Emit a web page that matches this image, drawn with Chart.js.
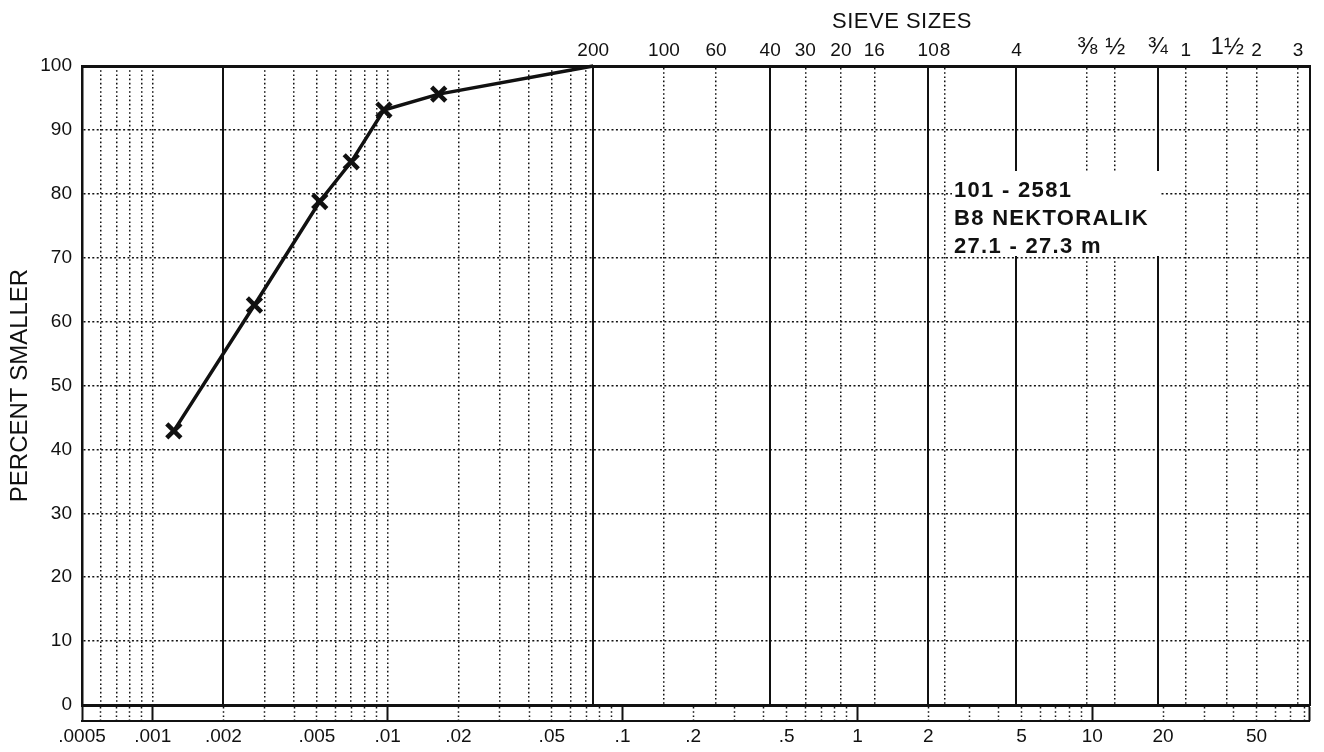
<!DOCTYPE html>
<html>
<head>
<meta charset="utf-8">
<title>Grain size distribution — 101-2581</title>
<script src="https://cdn.jsdelivr.net/npm/chart.js@4.4.1/dist/chart.umd.min.js"></script>
<style>
  html, body { margin: 0; padding: 0; background: #fff; }
  canvas { display: block; }
</style>
</head>
<body>
<canvas id="grain" width="1324" height="752"></canvas>
<script>
/* ============================================================
   grain size curve — hydrometer + sieve sheet
   ============================================================ */

/* ── sample ── */
const SIZE_MM     = [0.00123, 0.00271, 0.00514, 0.0070, 0.00964, 0.0165, 0.075];
const PCT_SMALLER = [42.9, 62.6, 78.8, 85.0, 93.1, 95.6, 100];

/* ── grain size axis (mm) ── */
const X_MIN = 0.0005;
const X_MAX = 84;
const BOTTOM_TICKS  = [0.0005, 0.001, 0.002, 0.005, 0.01, 0.02, 0.05, 0.1, 0.2, 0.5, 1, 2, 5, 10, 20, 50];
const BOTTOM_LABELS = ['.0005', '.001', '.002', '.005', '.01', '.02', '.05', '.1', '.2', '.5', '1', '2', '5', '10', '20', '50'];

/* sieve openings (mm) and their names */
const SIEVE_MM     = [0.075, 0.15, 0.25, 0.425, 0.6, 0.85, 1.18, 2.0, 2.36, 4.75, 9.5, 12.5, 19, 25, 37.5, 50, 75];
const SIEVE_LABELS = ['200', '100', '60', '40', '30', '20', '16', '10', '8', '4', '⅜', '½', '¾', '1', '1½', '2', '3'];
const HEAVY_MM     = [0.002, 0.075, 0.425, 2.0, 4.75, 19];

/* dotted lines in the hydrometer part */
const FINE_MM = [0.0006, 0.0007, 0.0008, 0.0009, 0.001,
                 0.003, 0.004, 0.005, 0.006, 0.007, 0.008, 0.009, 0.01,
                 0.02, 0.03, 0.04, 0.05, 0.06, 0.07];

/* percent axis */
const Y_TICKS = [0, 10, 20, 30, 40, 50, 60, 70, 80, 90, 100];

/* sample tag */
const TAG_LINES = ['101 - 2581', 'B8 NEKTORALIK', '27.1 - 27.3 m'];

/* ── look ── */
const FONT = "'Liberation Sans', Arial, Helvetica, sans-serif";
const INK  = '#111';
const DOTS = [1.6, 2.6];

Chart.defaults.font.family = FONT;
Chart.defaults.color       = INK;

/* short marks in the strip under the zero line: every 1..9 of each decade */
const STRIP_MM = [];
for (let e = -4; e <= 1; e++) {
  for (let m = 1; m <= 9; m++) {
    const v = +(m * Math.pow(10, e)).toPrecision(3);
    if (v >= X_MIN && v <= X_MAX) STRIP_MM.push(v);
  }
}
STRIP_MM.push(X_MAX);
const STRIP_SOLID = [X_MIN, 0.001, 0.01, 0.1, 1, 10, X_MAX];

/* ─────────────────────────── helpers ─────────────────────── */

const setTicks = list => scale => { scale.ticks = list.map(v => ({ value: v })); };
const fixH     = h => scale => { scale.height = h; };
const fixW     = w => scale => { scale.width  = w; };
const isFrac   = s => /[⅜½¾]/.test(s);

function logAxis(opts) {
  return Object.assign({ type: 'logarithmic', min: X_MIN, max: X_MAX }, opts);
}

/* sieve-sizes heading and the sample tag */
const sheetText = {
  id: 'sheetText',
  beforeDatasetsDraw(chart) {
    const { ctx } = chart;
    ctx.save();
    ctx.fillStyle    = INK;
    ctx.textBaseline = 'alphabetic';
    ctx.textAlign    = 'center';
    ctx.font         = `22px ${FONT}`;
    ctx.letterSpacing = '0.5px';
    ctx.fillText('SIEVE SIZES', 902, 28);

    ctx.fillStyle = '#fff';
    ctx.fillRect(952, 171, 208, 85);

    ctx.fillStyle = INK;
    ctx.textAlign = 'left';
    ctx.font      = `bold 22px ${FONT}`;
    ctx.letterSpacing = '1.3px';
    TAG_LINES.forEach((t, i) => ctx.fillText(t, 954, 197 + i * 28));
    ctx.restore();
  },
};

/* ─────────────────────────── chart ─────────────────────── */

new Chart(document.getElementById('grain'), {
  type: 'line',
  data: {
    datasets: [{
      data            : SIZE_MM.map((d, i) => ({ x: d, y: PCT_SMALLER[i] })),
      borderColor     : INK,
      borderWidth     : 3.5,
      pointStyle      : 'crossRot',
      pointRadius     : c => (c.dataIndex === SIZE_MM.length - 1 ? 0 : 10),
      pointBorderWidth: 4.5,
      pointBorderColor: INK,
      backgroundColor : INK,
      tension         : 0,
      clip            : false,
    }],
  },
  options: {
    responsive: false,
    animation : false,
    layout    : { padding: { left: 0, right: 10, top: 0, bottom: 0 } },
    plugins   : { legend: { display: false }, tooltip: { enabled: false } },
    scales: {
      /* labelled decade axis under the strip */
      x: logAxis({
        position: 'bottom', weight: 2,
        afterBuildTicks: setTicks(BOTTOM_TICKS),
        afterFit: fixH(31),
        ticks : { autoSkip: false, maxRotation: 0, minRotation: 0, padding: 4,
                  font: { size: 19 }, callback: (v, i) => BOTTOM_LABELS[i] },
        grid  : { drawOnChartArea: false, drawTicks: false },
        border: { display: true, color: INK, width: 2 },
      }),
      /* the strip right under the zero line */
      strip: logAxis({
        position: 'bottom', weight: 1,
        afterBuildTicks: setTicks(STRIP_MM),
        afterFit: fixH(16),
        ticks : { display: false },
        grid  : {
          drawOnChartArea: false, drawTicks: true, tickLength: 16, tickColor: INK,
          tickWidth     : c => (STRIP_SOLID.includes(c.tick.value) ? 2 : 1.5),
          tickBorderDash: c => (STRIP_SOLID.includes(c.tick.value) ? [] : DOTS),
        },
        border: { display: true, color: INK, width: 3 },
      }),
      /* sieve numbers on top */
      sieve: logAxis({
        position: 'top', weight: 1,
        afterBuildTicks: setTicks(SIEVE_MM),
        afterFit: fixH(66),
        ticks : { autoSkip: false, maxRotation: 0, minRotation: 0, padding: 4,
                  font: c => ({ size: isFrac(SIEVE_LABELS[c.index] || '') ? 24 : 19 }),
                  callback: (v, i) => SIEVE_LABELS[i] },
        grid  : { drawTicks: false, lineWidth: 1.5,
                  color: c => (HEAVY_MM.includes(c.tick.value) ? 'transparent' : INK) },
        border: { display: true, color: INK, width: 3, dash: DOTS },
      }),
      /* heavy lines: .002 mm and the main sieves */
      heavy: logAxis({
        position: 'top', weight: 5,
        afterBuildTicks: setTicks(HEAVY_MM),
        afterFit: fixH(0),
        ticks : { display: false },
        grid  : { drawTicks: false, lineWidth: 2, color: INK },
        border: { display: false },
      }),
      /* dotted lines of the hydrometer range */
      fine: logAxis({
        position: 'top', weight: 6,
        afterBuildTicks: setTicks(FINE_MM),
        afterFit: fixH(0),
        ticks : { display: false },
        grid  : { drawTicks: false, lineWidth: 1.5, color: INK },
        border: { display: false, dash: DOTS },
      }),
      y: {
        type: 'linear', position: 'left', min: 0, max: 100,
        afterBuildTicks: setTicks(Y_TICKS),
        afterFit: fixW(82),
        ticks : { padding: 10, font: { size: 19 }, callback: v => v },
        grid  : { drawTicks: false, lineWidth: 1.5,
                  color: c => (c.tick.value === 0 || c.tick.value === 100 ? 'transparent' : INK) },
        border: { display: true, color: INK, width: 2.5, dash: [2, 2.4] },
        title : { display: true, text: 'PERCENT SMALLER', font: { size: 24 },
                  padding: { top: 6, bottom: 0 } },
      },
      /* right frame line */
      edge: {
        type: 'linear', position: 'right', min: 0, max: 100,
        afterFit: fixW(0),
        ticks : { display: false },
        grid  : { drawOnChartArea: false, drawTicks: false },
        border: { display: true, color: INK, width: 2 },
      },
    },
  },
  plugins: [sheetText],
});
</script>
</body>
</html>
